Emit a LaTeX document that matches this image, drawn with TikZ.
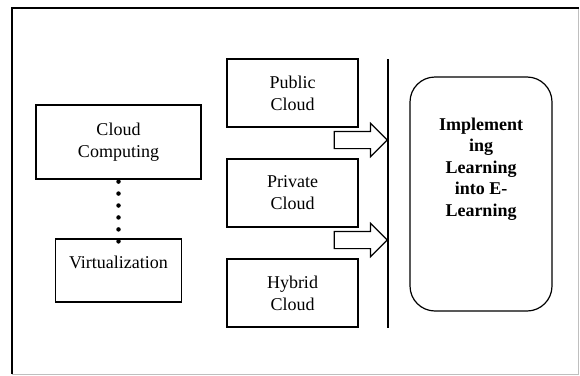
\documentclass[tikz,border=0pt]{standalone}
\usepackage{fontspec}
\setmainfont{Liberation Serif}
\usetikzlibrary{shapes.arrows}

\begin{document}
\begin{tikzpicture}[x=1pt,y=-1pt,node distance=100pt,line width=1.2pt]
\tikzstyle{every node}=[font=\fontsize{18pt}{22pt}\selectfont]
\tikzstyle{cloudbox}=[draw=black,rectangle,inner sep=0pt,align=center,minimum width=131pt,minimum height=68pt]
\tikzstyle{fatarrow}=[draw=black,single arrow,single arrow head extend=8pt,inner sep=0pt,text height=8pt,text depth=8pt,minimum height=53pt]

\useasboundingbox (0,0) rectangle (580,375);

% frame
\draw[black!25,line width=0.8pt] (578.5,8) -- (578.5,374) -- (12,374);
\draw[line width=1.3pt] (12,374) -- (12,8) -- (578.5,8);

        \node[cloudbox,minimum width=165pt,minimum height=74pt]      (cc)   at (118.5,142)        {Cloud\\Computing};
        \node[cloudbox,minimum width=126pt,minimum height=63pt,
              text height=29pt,text depth=34pt,node distance=128.5pt] (virt) [below of=cc]        {Virtualization};

        \node[cloudbox]                                              (pub)  at (292.5,93)         {Public\\Cloud};
        \node[cloudbox]                                              (priv) [below of=pub]        {Private\\Cloud};
        \node[cloudbox]                                              (hyb)  [below of=priv]       {Hybrid\\Cloud};

        \coordinate (bartop) at (388,59);
        \coordinate (barbot) at (388,328);
        \draw (bartop) -- (barbot);

        \node[fatarrow,anchor=tip]                                   (arrA) at (388,140)          {};
        \node[fatarrow,anchor=tip]                                   (arrB) at (388,240)          {};

        \node[draw=black,rounded corners=25pt,minimum width=142pt,minimum height=234pt] (impl) at (481,194) {};
        \node[font=\fontsize{18pt}{21.5pt}\selectfont\bfseries,align=center] (impltext) at (481,169)
             {Implement\\ing\\Learning\\into E-\\Learning};

        \draw[line width=4.5pt,line cap=round,dash pattern=on 0pt off 11.95pt]
        ([yshift=-2pt]cc.south) -- ([yshift=-3pt]virt.north)
        ; %end path

\end{tikzpicture}
\end{document}
